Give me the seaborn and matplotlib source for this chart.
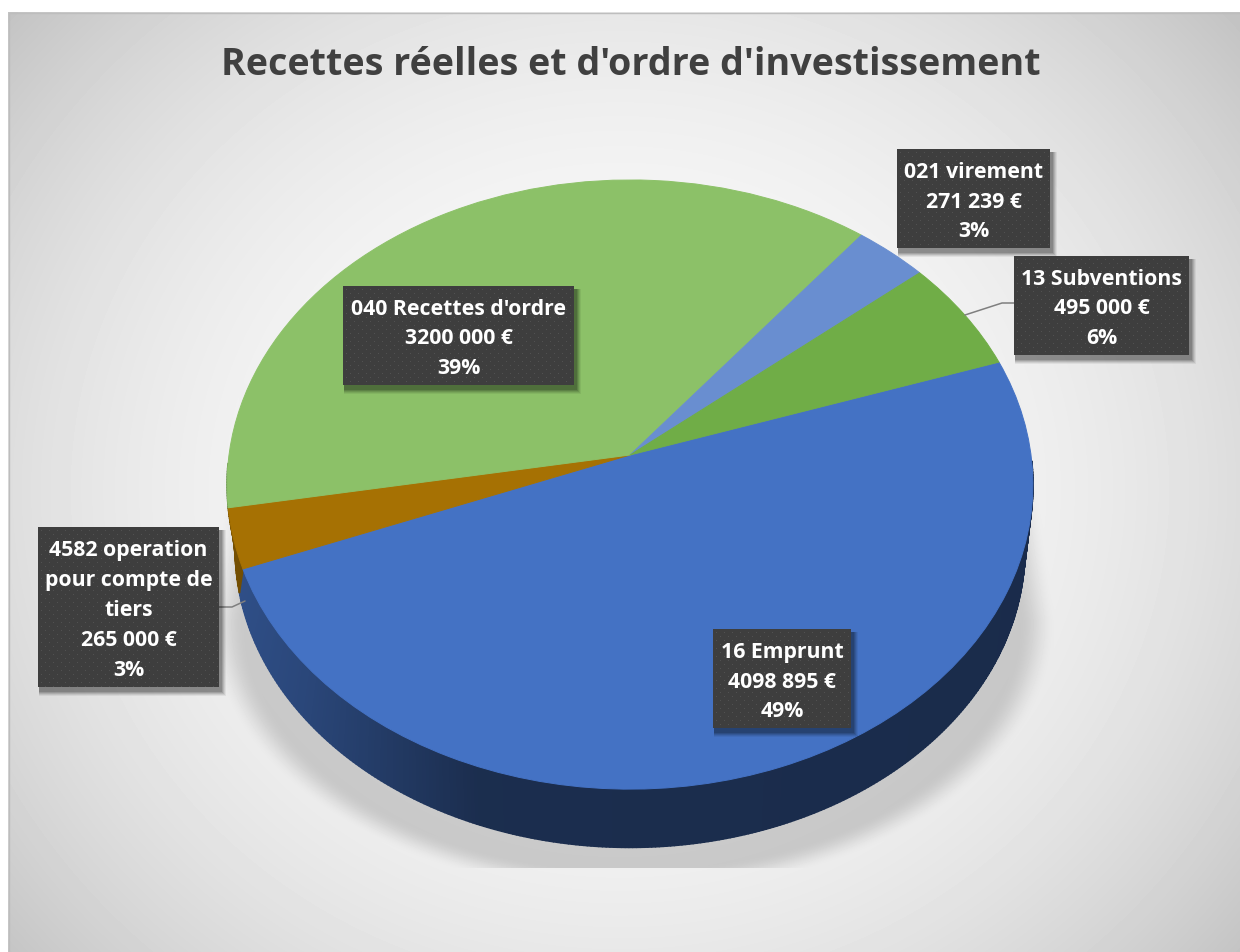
import numpy as np
import matplotlib
matplotlib.use("Agg")
import matplotlib.pyplot as plt
from matplotlib.collections import PolyCollection
from matplotlib.colors import to_rgb
from matplotlib.patches import Rectangle
from matplotlib.transforms import Transform
import seaborn as sns

# ---- data -------------------------------------------------------------
categories = ["16 Emprunt", "4582 operation\npour compte de\ntiers", "040 Recettes d'ordre",
              "021 virement", "13 Subventions"]
amounts = [4098895, 265000, 3200000, 271239, 495000]
amount_labels = ["4098 895 €", "265 000 €", "3200 000 €", "271 239 €", "495 000 €"]
percent_labels = ["49%", "3%", "39%", "3%", "6%"]
slice_colors = ["#4472c4", "#a67103", "#8cc168", "#698ed0", "#70ad47"]
chart_title = "Recettes réelles et d'ordre d'investissement"

# label boxes: left, top, right, bottom in figure pixels
label_boxes = [(713, 629, 851, 728), (38, 527, 219, 687), (343, 286, 574, 385),
               (897, 149, 1050, 248), (1014, 256, 1189, 355)]
leader_lines = [([965, 1002, 1014], [315, 303, 303]), ([219, 232, 245], [607, 607, 601])]

W, H = 1240, 952
DEPTH_SCALE = 0.98


class TiltedDisc(Transform):
    """Projects the unit pie disc onto the page with a simple perspective."""
    input_dims = output_dims = 2

    def __init__(self, cx, cy, ax_x, ax_y, k=0.0969):
        super().__init__()
        self.cx, self.cy, self.ax_x, self.ax_y, self.k = cx, cy, ax_x, ax_y, k

    def transform_non_affine(self, values):
        values = np.asarray(values, dtype=float)
        w = 1 + self.k * values[:, 1]
        return np.column_stack((self.cx + self.ax_x * values[:, 0] / w,
                                self.cy - self.ax_y * values[:, 1] / w))


sns.set_theme(style="white")
plt.rcParams["font.family"] = ["Open Sans", "DejaVu Sans"]

fig = plt.figure(figsize=(W / 100, H / 100), dpi=100, facecolor="white")
ax = fig.add_axes([0, 0, 1, 1])

# chart area backdrop: soft radial gradient plus the pie's cast shadow
yy, xx = np.mgrid[12:952, 8:1240] + 0.5
radius = np.hypot(xx - 620, (yy - 490) * 1.1)
backdrop = 250 - 54 * (radius / 800) ** 2.4

dx = np.abs(xx - 632)
side_w = 395 + (yy - 400) * 30 / 220
reach = np.where(yy < 620, dx / side_w, np.hypot(dx / 425, (yy - 620) / 275))
cast = np.clip((1 - reach) / 0.09, 0, 1)
cast = cast * cast * (3 - 2 * cast)
cast *= np.clip((yy - 380) / 70, 0, 1) * (yy < 868)
backdrop = backdrop * (1 - 0.16 * cast)
ax.imshow(backdrop, cmap="gray", vmin=0, vmax=255, extent=(8, W, H, 12),
          interpolation="bilinear", zorder=0, aspect="auto")
ax.add_patch(Rectangle((8.5, 12.5), W, H, fill=False, ec="#bdbdbd", lw=1, zorder=1))

# upper face of the pie
top_face = TiltedDisc(630, 455, 401, 301.7)
lower_rim = TiltedDisc(630, 520, 401 * DEPTH_SCALE, 301.7 * DEPTH_SCALE)
wedges, _ = ax.pie(amounts, colors=sns.color_palette(slice_colors), startangle=18.5,
                   counterclock=False, wedgeprops=dict(lw=0.7, zorder=4))
for wedge in wedges:
    wedge.set_edgecolor(wedge.get_facecolor())
    wedge.set_transform(top_face + ax.transData)

# outer wall of the pie, shaded across its width; only the front half shows
for wedge, color in zip(wedges, slice_colors):
    degrees = np.arange(wedge.theta1, wedge.theta2 + 0.5, 0.5)
    theta = np.radians(degrees)
    unit = np.column_stack((np.cos(theta), np.sin(theta)))
    # wall edges lean towards the back as they approach the left silhouette
    lean = 10 * np.clip(-unit[:, 0], 0, 1) ** 4
    low = np.radians(degrees - lean)
    upper = top_face.transform(unit)
    lower = lower_rim.transform(np.column_stack((np.cos(low), np.sin(low))))
    quads, shades = [], []
    base = np.array(to_rgb(color))
    for i in range(len(theta) - 1):
        if unit[i, 1] > -0.02:
            continue
        quads.append([upper[i], upper[i + 1], lower[i + 1], lower[i]])
        factor = np.interp(unit[i, 0], [-1, -0.75, -0.35, 1], [0.72, 0.62, 0.40, 0.38])
        shades.append(base * factor)
    if quads:
        ax.add_collection(PolyCollection(quads, facecolors=shades, edgecolors=shades,
                                         linewidths=1.2, zorder=3))

# leader lines
for xs, ys in leader_lines:
    ax.plot(xs, ys, color="#7f7f7f", lw=1.1, zorder=5, solid_joinstyle="round")

# dark dotted label boxes
for (left, top, right, bottom), name, amount, pct in zip(label_boxes, categories, amount_labels, percent_labels):
    for grow, alpha in ((6, 0.06), (5, 0.08), (4, 0.10), (3, 0.12), (2, 0.14)):
        ax.add_patch(Rectangle((left + 1, top + 3), right - left + grow, bottom - top + grow,
                               fc="black", ec="none", alpha=alpha, zorder=6))
    py, px = np.mgrid[top:bottom, left:right]
    px, py = px - left, py - top
    tile = np.full(px.shape, 62.0)
    tile[((px % 8 == 3) & (py % 8 == 3)) | ((px % 8 == 7) & (py % 8 == 7))] = 82.0
    ax.imshow(tile, cmap="gray", vmin=0, vmax=255, extent=(left, right, bottom, top),
              interpolation="bilinear", zorder=7, aspect="auto")
    ax.text((left + right) / 2, (top + bottom) / 2 + 3.5, f"{name}\n{amount}\n{pct}",
            color="white", fontsize=15.3, fontweight="bold", ha="center", va="center",
            linespacing=1.55, zorder=8)

ax.text(631, 65, chart_title, color="#404040", fontsize=27.1, fontweight="bold",
        ha="center", va="center", zorder=8)

ax.set_aspect("auto")
ax.set_xlim(0, W)
ax.set_ylim(H, 0)
ax.axis("off")

fig.savefig("out.png", dpi=100, facecolor="white")
